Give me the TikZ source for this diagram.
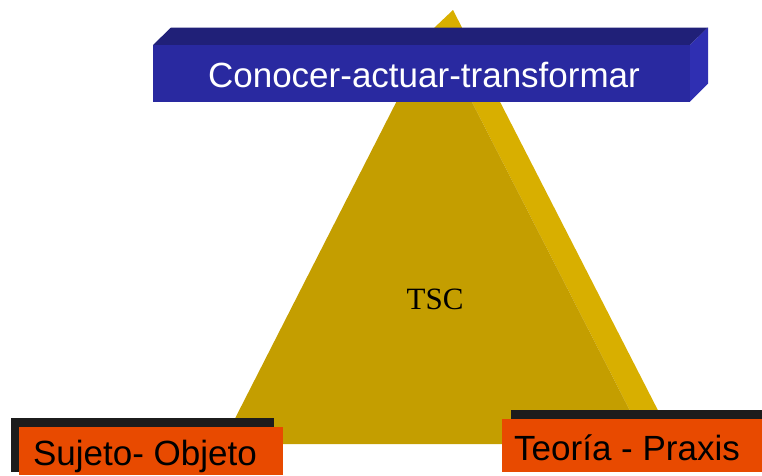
\documentclass[tikz,border=0pt]{standalone}
\usepackage{fontspec}
\setmainfont{Liberation Sans}
\newfontfamily\serifface{Liberation Serif}
\definecolor{triFront}{HTML}{C49E00}
\definecolor{triBack}{HTML}{D8AF00}
\definecolor{boxFront}{HTML}{2929A0}
\definecolor{boxTop}{HTML}{202078}
\definecolor{boxSide}{HTML}{2F2FB2}
\definecolor{orangeBox}{HTML}{E84A00}
\definecolor{shadowBar}{HTML}{1C1C1C}
\begin{document}
\begin{tikzpicture}[x=1pt,y=-1pt,
  lbl/.style={inner sep=0pt,anchor=base}]
\useasboundingbox (0,0) rectangle (762,475);
% triangle (extruded)
\fill[triBack] (453,10) -- (666,426) -- (647,444) -- (434,28) -- cycle;
\fill[triFront] (434,28) -- (647,444) -- (222,444) -- cycle;
\node[lbl,font=\serifface\fontsize{31}{31}\selectfont] (tsc) at (435,309) {TSC};
% blue 3D box
\fill[boxTop] (153,45) -- (171,27.5) -- (708,27.5) -- (690,45) -- cycle;
\fill[boxSide] (690,45) -- (708,27.5) -- (708,83.5) -- (690,101.5) -- cycle;
\fill[boxFront] (153,45) rectangle (690,101.5);
\node[lbl,text=white,font=\fontsize{35}{35}\selectfont] (top) at (424,87) {Conocer-actuar-transformar};
% left box
\fill[shadowBar] (11,417.5) rectangle (274,472);
\fill[orangeBox] (19,426.5) rectangle (283,475);
\node[lbl,font=\fontsize{35}{35}\selectfont] (left) at (145,465) {Sujeto- Objeto};
% right box
\fill[shadowBar] (511,410) rectangle (762,460);
\fill[orangeBox] (502,419) rectangle (762,472);
\node[lbl,font=\fontsize{35}{35}\selectfont] (right) at (627,460) {Teoría - Praxis};
\end{tikzpicture}
\end{document}
